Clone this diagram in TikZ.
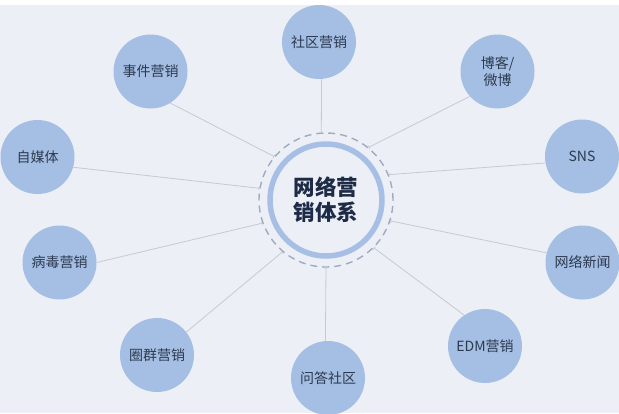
\documentclass[tikz,border=0pt]{standalone}
\usepackage{fontspec}
\newfontfamily\cjk{Noto Sans CJK SC}
\usetikzlibrary{arrows.meta}
\definecolor{bgc}{HTML}{ECF0F6}
\definecolor{satc}{HTML}{A5BEE3}
\definecolor{ringc}{HTML}{A7BFE5}
\definecolor{dashc}{HTML}{9EABC0}
\definecolor{linec}{HTML}{C6CAD1}
\definecolor{txtc}{HTML}{2C3A50}
\definecolor{ctxt}{HTML}{1E2B47}
\tikzset{
  sat/.style={circle,fill=satc,minimum size=74pt,inner sep=0pt,font=\cjk\fontsize{14}{17}\selectfont,text=txtc,align=center},
  conn/.style={draw=linec,line width=0.8pt,{Bar[width=4pt,line width=0.7pt]}-},
}
\begin{document}
\begin{tikzpicture}[x=1pt,y=-1pt]
\useasboundingbox (0,0) rectangle (619,413);
\clip (0,0) rectangle (619,413);
\fill[bgc] (0,0) rectangle (619,413);
\fill[white] (0,0) rectangle (619,5);
% centre
\node[circle,draw=dashc,dashed,dash pattern=on 7pt off 5pt,line width=1.4pt,minimum size=134pt,inner sep=0pt] (c) at (326,200) {};
\node[circle,draw=ringc,line width=5.5pt,minimum size=112pt,inner sep=0pt,font=\cjk\bfseries\fontsize{21.5}{25}\selectfont,text=ctxt,align=center] (ct) at (326,200) {网络营\\销体系};
% satellites
\node[sat] (s1) at (319,42) {社区营销};
\node[sat] (s2) at (497.5,71.5) {博客/\\微博};
\node[sat] (s3) at (582,156.5) {SNS};
\node[sat] (s4) at (582.5,262.5) {网络新闻};
\node[sat] (s5) at (485,346) {EDM营销};
\node[sat] (s6) at (328,378) {问答社区};
\node[sat] (s7) at (157,355) {圈群营销};
\node[sat] (s8) at (59.5,262.5) {病毒营销};
\node[sat] (s9) at (37.5,157) {自媒体};
\node[sat] (s10) at (150.5,71.5) {事件营销};
% connectors
\draw[conn] (c.94.3) -- (s1.-86.8);
\draw[conn] (c.51.6) -- (s2.-138.1);
\draw[conn] (c.22.1) -- (s3.190.2);
\draw[conn] (c.-18.4) -- (s4.165.4);
\draw[conn] (c.-45.6) -- (s5.124.1);
\draw[conn] (c.-90.8) -- (s6.94.6);
\draw[conn] (c.-130.2) -- (s7.38.7);
\draw[conn] (c.-160) -- (s8.0.8);
\draw[conn] (c.170.8) -- (s9.-16.8);
\draw[conn] (c.140.3) -- (s10.-58.2);
\end{tikzpicture}
\end{document}
